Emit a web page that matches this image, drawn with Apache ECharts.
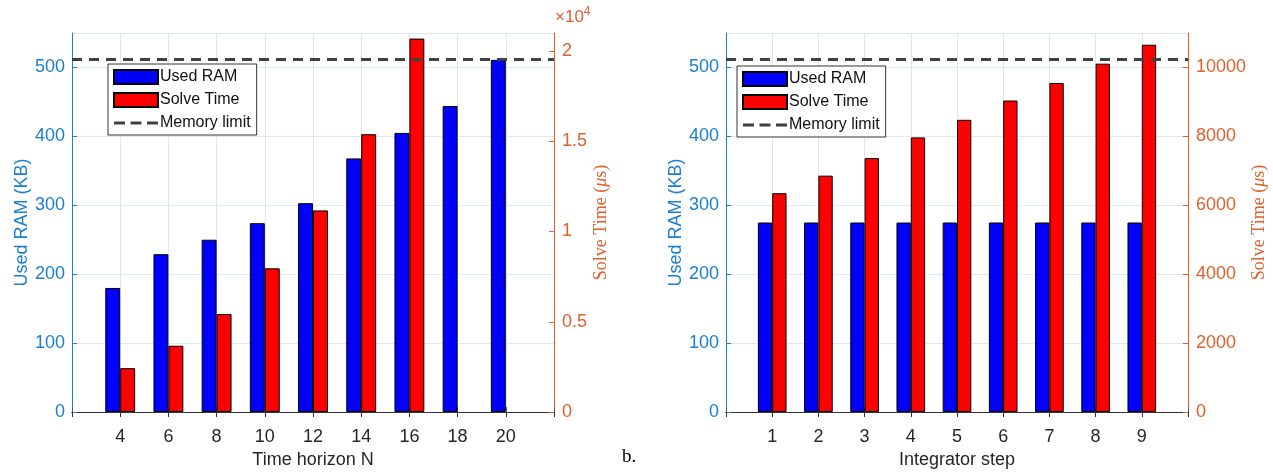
<!DOCTYPE html>
<html>
<head>
<meta charset="utf-8">
<script src="https://cdn.jsdelivr.net/npm/echarts@6/dist/echarts.min.js"></script>
<style>
  html, body { margin: 0; padding: 0; background: #fff; }
  #myChart { width: 1273px; height: 473px; }
</style>
</head>
<body>
<div id="myChart"></div>
<script>
// left panel: time horizon N
const horizonN = ["4", "6", "8", "10", "12", "14", "16", "18", "20"];
const ramByHorizon = [180, 229, 250, 274, 303, 368, 405, 444, 511];
const timeByHorizon = [2430, 3670, 5430, 7960, 11170, 15390, 20690, null, null];

// right panel: integrator step
const integratorStep = ["1", "2", "3", "4", "5", "6", "7", "8", "9"];
const ramByStep = [275, 275, 275, 275, 275, 275, 275, 275, 275];
const timeByStep = [6350, 6860, 7370, 7970, 8480, 9040, 9550, 10110, 10660];

const memoryLimit = 512;

const blue = "#1a7fd0";
const orange = "#e0602c";
const sans = "'Liberation Sans', Arial, sans-serif";
const serif = "'Liberation Serif', 'DejaVu Serif', serif";

// three dashes, the path keeps its 44x14 box so it is not stretched
const dashIcon = "path://M0,0M44,14M0,5.5h11v3h-11zM16.5,5.5h11v3h-11zM33,5.5h11v3h-11z";

// empty slot at each end gives the padding MATLAB puts around the bars
function pad(arr, fill) {
  return [fill].concat(arr, [fill]);
}

function bottomAxis(grid, cats, name) {
  return {
    type: "category",
    gridIndex: grid,
    position: "bottom",
    boundaryGap: false,
    data: pad(cats, ""),
    name: name,
    nameLocation: "middle",
    nameGap: 37,
    nameTextStyle: { color: "#262626", fontSize: 18, fontFamily: sans },
    axisLine: { lineStyle: { color: orange, width: 1 } },
    axisTick: { inside: true, length: 5, lineStyle: { color: "#555" } },
    axisLabel: { color: "#262626", fontSize: 18, fontFamily: sans, margin: 16, interval: 0 },
    splitLine: { show: true, lineStyle: { color: "#e4e4e4" } }
  };
}

function topAxis(grid, cats) {
  return {
    type: "category",
    gridIndex: grid,
    position: "top",
    boundaryGap: false,
    data: pad(cats, ""),
    axisLine: { lineStyle: { color: "#333", width: 1.2 } },
    axisTick: { inside: true, length: 5, lineStyle: { color: "#333" } },
    axisLabel: { show: false },
    splitLine: { show: false }
  };
}

function leftAxis(grid) {
  return {
    type: "value",
    gridIndex: grid,
    position: "left",
    min: 0,
    max: 550,
    interval: 100,
    name: "Used RAM (KB)",
    nameLocation: "middle",
    nameRotate: 90,
    nameGap: 41,
    nameTextStyle: { color: blue, fontSize: 18, fontFamily: sans },
    axisLine: { show: true, lineStyle: { color: blue } },
    axisTick: { show: true, inside: true, length: 5, lineStyle: { color: blue } },
    axisLabel: { color: blue, fontSize: 18, fontFamily: sans, margin: 7, showMaxLabel: false },
    splitLine: { show: true, lineStyle: { color: "#dde9f4" } }
  };
}

function rightAxis(grid, max, interval, fmt, gap) {
  return {
    type: "value",
    gridIndex: grid,
    position: "right",
    min: 0,
    max: max,
    interval: interval,
    name: "Solve Time ({i|μ}s)",
    nameLocation: "middle",
    nameRotate: 90,
    nameGap: gap,
    nameTextStyle: {
      color: orange, fontSize: 18, fontFamily: serif,
      rich: { i: { color: orange, fontSize: 18, fontFamily: serif, fontStyle: "italic" } }
    },
    axisLine: { show: true, lineStyle: { color: orange } },
    axisTick: { show: true, inside: true, length: 5, lineStyle: { color: orange } },
    axisLabel: { color: orange, fontSize: 18, fontFamily: sans, margin: 8, showMaxLabel: false, formatter: fmt },
    splitLine: { show: false }
  };
}

function barSeries(name, color, xi, yi, data) {
  return {
    name: name,
    type: "bar",
    xAxisIndex: xi,
    yAxisIndex: yi,
    data: pad(data, null),
    barWidth: "31%",
    barGap: "0%",
    itemStyle: { color: color, borderColor: "#000", borderWidth: 1 },
    emphasis: { disabled: true }
  };
}

function limitSeries(xi, yi) {
  return {
    name: "Memory limit",
    type: "line",
    xAxisIndex: xi,
    yAxisIndex: yi,
    data: [],
    symbol: "none",
    lineStyle: { color: "#404040", width: 3, type: [10, 7] },
    itemStyle: { color: "#404040" },
    markLine: {
      silent: true,
      symbol: "none",
      label: { show: false },
      lineStyle: { color: "#404040", width: 3, type: [10, 7] },
      data: [{ yAxis: memoryLimit }]
    }
  };
}

function legendAt(left, top) {
  return {
    orient: "vertical",
    left: left,
    top: top,
    itemWidth: 44,
    itemHeight: 14,
    itemGap: 7,
    padding: [5, 6, 4, 5],
    borderColor: "#333",
    borderWidth: 1,
    backgroundColor: "#fff",
    textStyle: { color: "#111", fontSize: 16, fontFamily: sans, padding: [0, 0, 0, -3] },
    data: [
      { name: "Used RAM", icon: "rect" },
      { name: "Solve Time", icon: "rect" },
      { name: "Memory limit", icon: dashIcon, itemStyle: { color: "#404040", borderWidth: 0 } }
    ]
  };
}

let myChart = echarts.init(document.getElementById("myChart"));
myChart.setOption({
  animation: false,
  grid: [
    { left: 72, top: 33, width: 482, height: 379, outerBoundsMode: "none" },
    { left: 726, top: 33, width: 462, height: 379, outerBoundsMode: "none" }
  ],
  legend: [legendAt(108, 64), legendAt(737, 66)],
  xAxis: [
    bottomAxis(0, horizonN, "Time horizon N"),
    topAxis(0, horizonN),
    bottomAxis(1, integratorStep, "Integrator step"),
    topAxis(1, integratorStep)
  ],
  yAxis: [
    leftAxis(0),
    rightAxis(0, 21000, 5000, function (v) { return String(v / 10000); }, 38),
    leftAxis(1),
    rightAxis(1, 11000, 2000, function (v) { return String(v); }, 60)
  ],
  graphic: [
    {
      type: "text",
      left: 555,
      top: 6,
      style: {
        text: "×10{s|4}",
        fill: orange,
        fontSize: 17,
        fontFamily: sans,
        rich: { s: { fill: orange, fontSize: 12, fontFamily: sans, verticalAlign: "top", padding: [0, 0, 10, 0] } }
      }
    },
    {
      type: "text",
      left: 622,
      top: 448,
      style: { text: "b.", fill: "#000", fontSize: 19, fontFamily: serif }
    }
  ],
  series: [
    barSeries("Used RAM", "#0000ff", 0, 0, ramByHorizon),
    barSeries("Solve Time", "#ff0000", 0, 1, timeByHorizon),
    limitSeries(0, 0),
    barSeries("Used RAM", "#0000ff", 2, 2, ramByStep),
    barSeries("Solve Time", "#ff0000", 2, 3, timeByStep),
    limitSeries(2, 2)
  ]
});
</script>
</body>
</html>
